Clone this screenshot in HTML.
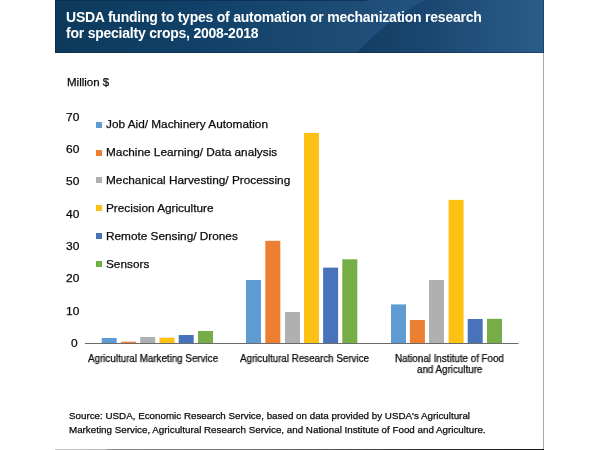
<!DOCTYPE html>
<html><head><meta charset="utf-8">
<style>
html,body{margin:0;padding:0;background:#fff;}
body{width:600px;height:450px;position:relative;overflow:hidden;font-family:"Liberation Sans",sans-serif;color:#0a0a0a;-webkit-text-stroke-width:0.25px;}
.t{position:absolute;white-space:nowrap;will-change:transform;}
.hdr{position:absolute;left:55px;top:0;width:489px;height:53px;}
.rline{position:absolute;left:543px;top:53px;width:1px;height:397px;background:#a8a8a8;}
.bline{position:absolute;left:55px;top:449px;width:489px;height:1px;background:linear-gradient(to right,#c4c4c4 0,#b8b8b8 50px,#8c8c8c 54px,#767676 190px,#3a3a3a 340px,#161616 489px);}
.sq{position:absolute;width:6px;height:6px;}
</style></head><body>
<svg class="hdr" width="489" height="53" style="background:none">
<defs>
<linearGradient id="g1" x1="0" y1="0" x2="489" y2="0" gradientUnits="userSpaceOnUse">
<stop offset="0" stop-color="#0d3a5b"/><stop offset="0.3" stop-color="#11416a"/><stop offset="0.55" stop-color="#1b4a72"/><stop offset="0.75" stop-color="#225380"/><stop offset="1" stop-color="#285b88"/>
</linearGradient>
<linearGradient id="g2" x1="300" y1="0" x2="489" y2="0" gradientUnits="userSpaceOnUse">
<stop offset="0" stop-color="#133e62"/><stop offset="0.35" stop-color="#194670"/><stop offset="1" stop-color="#2a5d89"/>
</linearGradient>
</defs>
<rect x="0" y="0" width="489" height="53" fill="url(#g1)"/>
<path d="M302,53 Q334,18 370,0 L489,0 L489,53 Z" fill="url(#g2)"/>
<rect x="0" y="0" width="312" height="1" fill="#0a2b4a" opacity="0.7"/>
<rect x="0" y="52" width="489" height="1" fill="#0a2a48" opacity="0.45"/>
<rect x="488" y="0" width="1" height="53" fill="#0a2a48" opacity="0.4"/>
<rect x="0" y="0" width="1" height="53" fill="#0a2035" opacity="0.5"/>
</svg>
<div class="rline"></div>
<div class="bline"></div>

<div class="t" style="left:66.40px;top:10.35px;font-size:14px;line-height:14px;font-weight:bold;-webkit-text-stroke-width:0;color:#fff;letter-spacing:-0.23px;">USDA funding to types of automation or mechanization research</div>
<div class="t" style="left:66.40px;top:26.25px;font-size:14px;line-height:14px;font-weight:bold;-webkit-text-stroke-width:0;color:#fff;letter-spacing:-0.23px;">for specialty crops, 2008-2018</div>
<div class="t" style="left:66.50px;top:77.27px;font-size:11.5px;line-height:11.5px;">Million $</div>
<div class="t" style="left:66.00px;top:111.97px;font-size:11.2px;line-height:11.2px;transform:scaleX(1.07);transform-origin:0 0;">70</div>
<div class="t" style="left:66.00px;top:144.24px;font-size:11.2px;line-height:11.2px;transform:scaleX(1.07);transform-origin:0 0;">60</div>
<div class="t" style="left:66.00px;top:176.47px;font-size:11.2px;line-height:11.2px;transform:scaleX(1.07);transform-origin:0 0;">50</div>
<div class="t" style="left:66.00px;top:208.77px;font-size:11.2px;line-height:11.2px;transform:scaleX(1.07);transform-origin:0 0;">40</div>
<div class="t" style="left:66.00px;top:241.07px;font-size:11.2px;line-height:11.2px;transform:scaleX(1.07);transform-origin:0 0;">30</div>
<div class="t" style="left:66.00px;top:273.37px;font-size:11.2px;line-height:11.2px;transform:scaleX(1.07);transform-origin:0 0;">20</div>
<div class="t" style="left:66.00px;top:305.57px;font-size:11.2px;line-height:11.2px;transform:scaleX(1.07);transform-origin:0 0;">10</div>
<div class="t" style="left:71.00px;top:337.87px;font-size:11.2px;line-height:11.2px;transform:scaleX(1.07);transform-origin:0 0;">0</div>
<div class="sq" style="left:96.2px;top:121.80px;background:#5d9bd2"></div>
<div class="t" style="left:106.00px;top:118.61px;font-size:11.8px;line-height:11.8px;">Job Aid/ Machinery Automation</div>
<div class="sq" style="left:96.2px;top:149.60px;background:#ec7f32"></div>
<div class="t" style="left:106.00px;top:146.66px;font-size:11.8px;line-height:11.8px;">Machine Learning/ Data analysis</div>
<div class="sq" style="left:96.2px;top:177.40px;background:#afb0b1"></div>
<div class="t" style="left:106.00px;top:174.71px;font-size:11.8px;line-height:11.8px;">Mechanical Harvesting/ Processing</div>
<div class="sq" style="left:96.2px;top:205.20px;background:#fcc112"></div>
<div class="t" style="left:106.00px;top:202.76px;font-size:11.8px;line-height:11.8px;">Precision Agriculture</div>
<div class="sq" style="left:96.2px;top:233.00px;background:#4873bb"></div>
<div class="t" style="left:106.00px;top:230.81px;font-size:11.8px;line-height:11.8px;">Remote Sensing/ Drones</div>
<div class="sq" style="left:96.2px;top:260.80px;background:#75ad47"></div>
<div class="t" style="left:106.00px;top:258.86px;font-size:11.8px;line-height:11.8px;">Sensors</div>
<svg style="position:absolute;left:0;top:0" width="600" height="450">
<rect x="101.7" y="338" width="15" height="5.50" fill="#5d9bd2"/>
<rect x="121" y="341.7" width="15" height="1.80" fill="#ec7f32"/>
<rect x="140.2" y="337" width="15" height="6.50" fill="#afb0b1"/>
<rect x="159.5" y="337.7" width="15" height="5.80" fill="#fcc112"/>
<rect x="178.7" y="335" width="15" height="8.50" fill="#4873bb"/>
<rect x="198" y="331" width="15" height="12.50" fill="#75ad47"/>
<rect x="246" y="280" width="15" height="63.50" fill="#5d9bd2"/>
<rect x="265.3" y="240.8" width="15" height="102.70" fill="#ec7f32"/>
<rect x="285" y="312" width="15" height="31.50" fill="#afb0b1"/>
<rect x="304" y="132.9" width="15" height="210.60" fill="#fcc112"/>
<rect x="323.1" y="267.6" width="15" height="75.90" fill="#4873bb"/>
<rect x="342.3" y="259.3" width="15" height="84.20" fill="#75ad47"/>
<rect x="391" y="304.4" width="15" height="39.10" fill="#5d9bd2"/>
<rect x="409.9" y="320" width="15" height="23.50" fill="#ec7f32"/>
<rect x="429" y="280" width="15" height="63.50" fill="#afb0b1"/>
<rect x="448.6" y="199.9" width="15" height="143.60" fill="#fcc112"/>
<rect x="467.7" y="319" width="15" height="24.50" fill="#4873bb"/>
<rect x="487" y="318.8" width="15" height="24.70" fill="#75ad47"/>
<rect x="85" y="343" width="433.5" height="1" fill="#6b6b6b"/>
</svg>
<div class="t" style="left:88.20px;top:353.77px;font-size:10.2px;line-height:10.2px;transform:scaleX(0.961);transform-origin:0 0;">Agricultural Marketing Service</div>
<div class="t" style="left:240.00px;top:353.77px;font-size:10.2px;line-height:10.2px;transform:scaleX(0.961);transform-origin:0 0;">Agricultural Research Service</div>
<div class="t" style="left:394.60px;top:353.77px;font-size:10.2px;line-height:10.2px;transform:scaleX(0.961);transform-origin:0 0;">National Institute of Food</div>
<div class="t" style="left:417.20px;top:365.07px;font-size:10.2px;line-height:10.2px;transform:scaleX(0.961);transform-origin:0 0;">and Agriculture</div>
<div class="t" style="left:68.60px;top:411.30px;font-size:9.8px;line-height:9.8px;">Source: USDA, Economic Research Service, based on data provided by USDA's Agricultural</div>
<div class="t" style="left:68.60px;top:424.60px;font-size:9.8px;line-height:9.8px;">Marketing Service, Agricultural Research Service, and National Institute of Food and Agriculture.</div>
</body></html>
